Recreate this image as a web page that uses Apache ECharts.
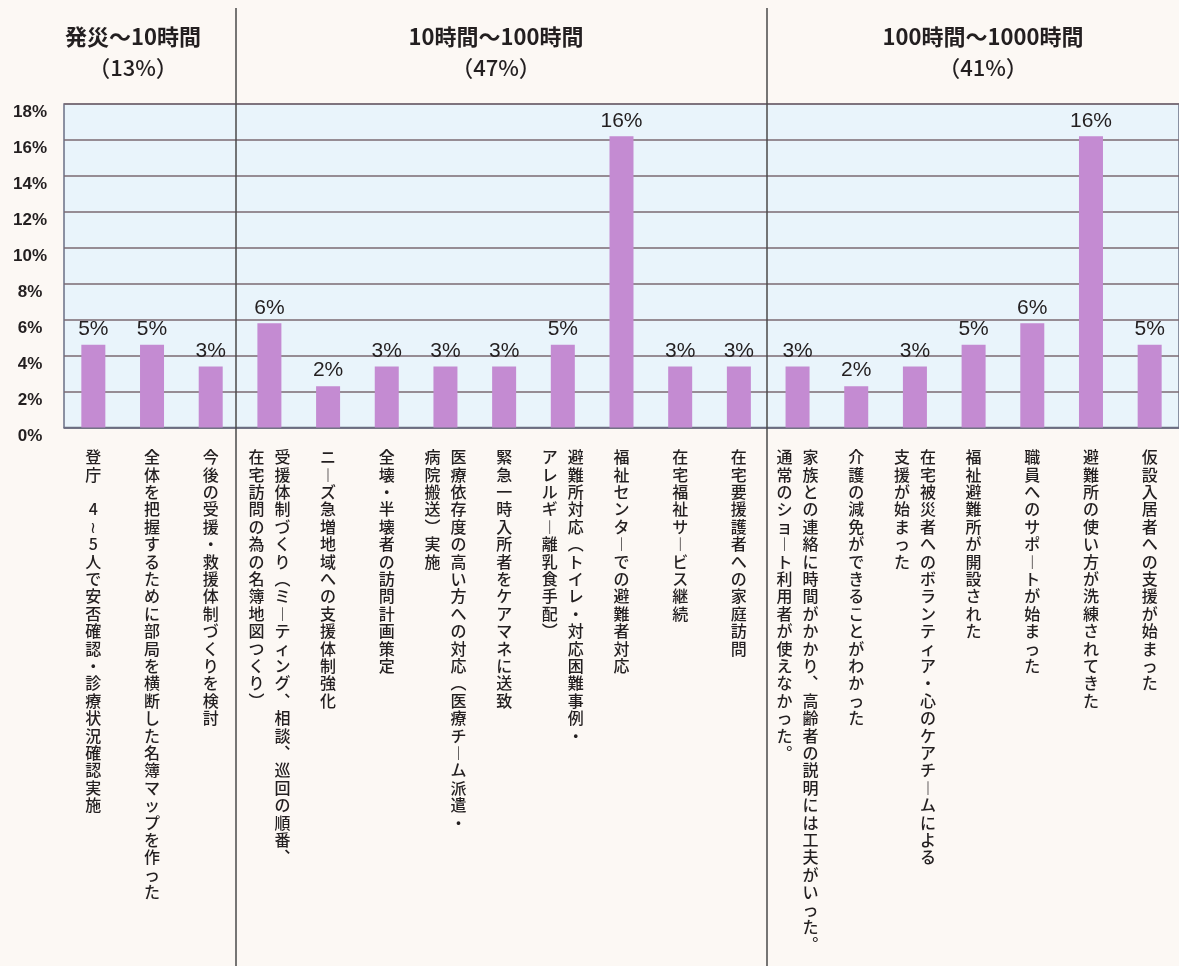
<!DOCTYPE html>
<html>
<head>
<meta charset="utf-8">
<script src="https://cdn.jsdelivr.net/npm/echarts@6/dist/echarts.min.js"></script>
<style>
html,body{margin:0;padding:0;background:#fcf8f4;}
#chart{width:1179px;height:966px;}
</style>
</head>
<body>
<div id="chart"></div>
<script>
// ---- data ----
const categories = [
  "登庁　4～5人で安否確認・診療状況確認実施",
  "全体を把握するために部局を横断した名簿マップを作った",
  "今後の受援・救援体制づくりを検討",
  "受援体制づくり（ミーティング、相談、巡回の順番、\n在宅訪問の為の名簿地図つくり）",
  "ニーズ急増地域への支援体制強化",
  "全壊・半壊者の訪問計画策定",
  "医療依存度の高い方への対応（医療チーム派遣・\n病院搬送）実施",
  "緊急一時入所者をケアマネに送致",
  "避難所対応（トイレ・対応困難事例・\nアレルギー離乳食手配）",
  "福祉センターでの避難者対応",
  "在宅福祉サービス継続",
  "在宅要援護者への家庭訪問",
  "家族との連絡に時間がかかり、高齢者の説明には工夫がいった。\n通常のショート利用者が使えなかった。",
  "介護の減免ができることがわかった",
  "在宅被災者へのボランティア・心のケアチームによる\n支援が始まった",
  "福祉避難所が開設された",
  "職員へのサポートが始まった",
  "避難所の使い方が洗練されてきた",
  "仮設入居者への支援が始まった"
];
const values = [4.6, 4.6, 3.4, 5.8, 2.3, 3.4, 3.4, 3.4, 4.6, 16.2, 3.4, 3.4, 3.4, 2.3, 3.4, 4.6, 5.8, 16.2, 4.6];
const sectionNames = ["発災～10時間", "10時間～100時間", "100時間～1000時間"];
const sectionShares = ["（13%）", "（47%）", "（41%）"];
const yTicks = [0, 2, 4, 6, 8, 10, 12, 14, 16, 18];

// ---- helpers ----
const VMAP = {'（':'︵','）':'︶','、':'︑','。':'︒','ー':'︱','～':'≀'};
function verticalLabel(text){
  const cols = text.split('\n').map(c => Array.from(c));
  const n = Math.max(...cols.map(c => c.length));
  const rows = [];
  for (let i = 0; i < n; i++) {
    let row = '';
    for (let j = cols.length - 1; j >= 0; j--) {
      const ch = cols[j][i] || '\u3000';
      row += '{c|' + (VMAP[ch] || ch) + '}';
    }
    rows.push(row);
  }
  return rows.join('\n');
}

const chart = echarts.init(document.getElementById('chart'));
const titleCenters = [133, 496, 983];
const graphics = [];
sectionNames.forEach((name, i) => {
  graphics.push({type:'text', x:titleCenters[i], y:37, z:10, style:{text:name, fill:'#231f20', font:'bold 22px "Noto Sans CJK JP"', textAlign:'center', textVerticalAlign:'middle'}});
  graphics.push({type:'text', x:titleCenters[i], y:68, z:10, style:{text:sectionShares[i], fill:'#231f20', font:'500 22px "Noto Sans CJK JP"', textAlign:'center', textVerticalAlign:'middle'}});
});
[236, 767].forEach(x => {
  graphics.push({type:'line', z:100, shape:{x1:x, y1:8, x2:x, y2:966}, style:{stroke:'#4a4a4a', lineWidth:1.5}});
});

chart.setOption({
  backgroundColor: '#fcf8f4',
  animation: false,
  grid: {left: 64, top: 104, width: 1119, height: 323.5, show: true, backgroundColor: '#e9f4fb', borderColor: '#6a6f85', borderWidth: 1.5},
  xAxis: {
    type: 'category',
    data: categories,
    axisLine: {show: true, lineStyle: {color: '#6a6f85', width: 1.5}},
    axisTick: {show: false},
    axisLabel: {
      interval: 0, margin: 21, verticalAlign: 'top', hideOverlap: false,
      formatter: verticalLabel,
      rich: {c: {width: 26, align: 'center', fontSize: 16, fontWeight: 500, lineHeight: 17.4, fontFamily: '"Noto Sans CJK JP"', color: '#231f20'}}
    }
  },
  yAxis: {
    type: 'value', min: yTicks[0], max: yTicks[yTicks.length-1], interval: 2,
    axisLine: {show: false}, axisTick: {show: false},
    splitLine: {show: true, lineStyle: {color: '#7a6a72', width: 1.5}},
    axisLabel: {formatter: '{value}%', align: 'center', verticalAlign: 'top', margin: 34, fontSize: 17, fontFamily: '"Liberation Sans"', fontWeight: 'bold', color: '#231f20'}
  },
  series: [{
    type: 'bar', data: values, barWidth: 24,
    itemStyle: {color: '#c48bd2'},
    label: {show: true, position: 'top', distance: 5, formatter: p => Math.round(p.value) + '%', fontSize: 21, fontFamily: '"Liberation Sans"', color: '#231f20'}
  }],
  graphic: graphics
});
</script>
</body>
</html>
